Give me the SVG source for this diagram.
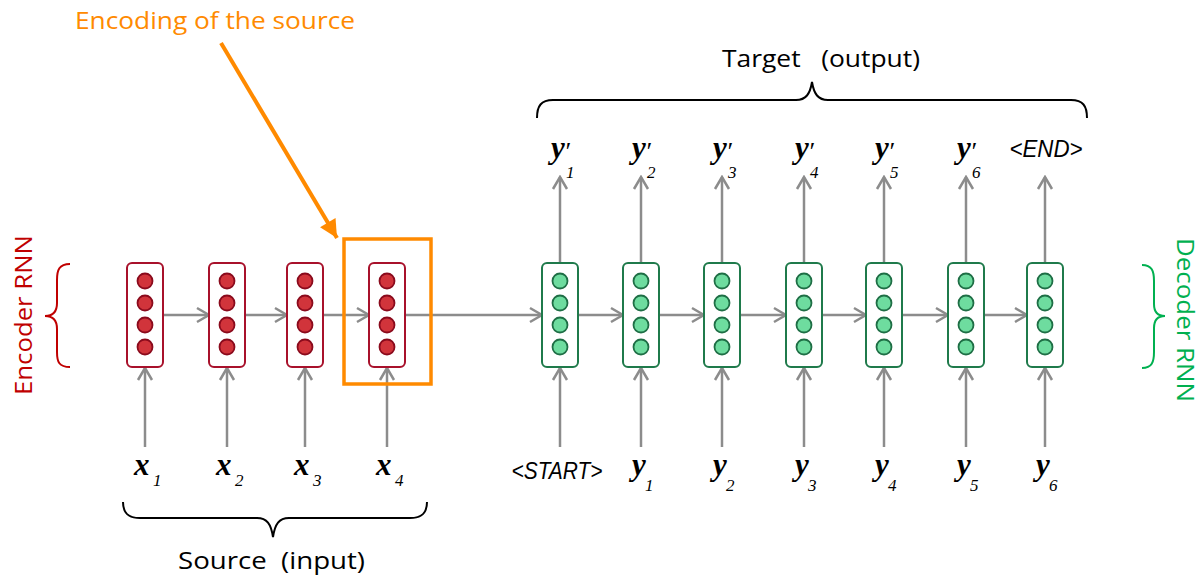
<svg xmlns="http://www.w3.org/2000/svg" width="1202" height="576" viewBox="0 0 1202 576">
<defs>
<style>
.enc{fill:#fff;stroke:#A8112B;stroke-width:2}
.encc{fill:#D1343B;stroke:#8A0A1C;stroke-width:1.8}
.dec{fill:#fff;stroke:#1F7A4B;stroke-width:2}
.decc{fill:#6EDC9F;stroke:#1E6E45;stroke-width:1.8}
.con{stroke:#8C8C8C;stroke-width:2.5;fill:none}
.math{font-family:"Liberation Serif",serif;font-style:italic;fill:#000}
.big{font-size:31px;font-weight:bold}
.sub{font-size:17px}
.tok{font-family:"Liberation Sans",Arial,sans-serif;font-style:italic;font-size:23px;fill:#000}
.lbl{font-family:"Open Sans","Noto Sans",sans-serif;font-size:24px}
.brace{fill:none;stroke:#000;stroke-width:2}
</style>
<marker id="ah" markerUnits="userSpaceOnUse" markerWidth="16" markerHeight="18" viewBox="-14 -9 16 18" refX="0" refY="0" orient="auto">
<path d="M-12,-7 L0,0 L-12,7" fill="none" stroke="#8C8C8C" stroke-width="2.5"/>
</marker>
<marker id="oah" markerUnits="userSpaceOnUse" markerWidth="24" markerHeight="24" viewBox="-20 -12 22 24" refX="0" refY="0" orient="auto">
<path d="M-18,-9 L0,0 L-18,9 Z" fill="#FF8A00"/>
</marker>
<g id="encnode">
<rect class="enc" x="-18" y="263" width="36" height="104" rx="5"/>
<circle class="encc" cx="0" cy="281" r="7.5"/>
<circle class="encc" cx="0" cy="303" r="7.5"/>
<circle class="encc" cx="0" cy="325" r="7.5"/>
<circle class="encc" cx="0" cy="347" r="7.5"/>
</g>
<g id="decnode">
<rect class="dec" x="-18" y="263" width="36" height="104" rx="5"/>
<circle class="decc" cx="0" cy="281" r="7.5"/>
<circle class="decc" cx="0" cy="303" r="7.5"/>
<circle class="decc" cx="0" cy="325" r="7.5"/>
<circle class="decc" cx="0" cy="347" r="7.5"/>
</g>
</defs>
<rect width="1202" height="576" fill="#fff"/>

<g id="connectors">
<line class="con" x1="163" y1="315" x2="209" y2="315" marker-end="url(#ah)"/>
<line class="con" x1="245" y1="315" x2="287" y2="315" marker-end="url(#ah)"/>
<line class="con" x1="323" y1="315" x2="369" y2="315" marker-end="url(#ah)"/>
<line class="con" x1="405" y1="315" x2="542" y2="315" marker-end="url(#ah)"/>
<line class="con" x1="578" y1="315" x2="623" y2="315" marker-end="url(#ah)"/>
<line class="con" x1="659" y1="315" x2="704" y2="315" marker-end="url(#ah)"/>
<line class="con" x1="740" y1="315" x2="786" y2="315" marker-end="url(#ah)"/>
<line class="con" x1="822" y1="315" x2="866" y2="315" marker-end="url(#ah)"/>
<line class="con" x1="902" y1="315" x2="948" y2="315" marker-end="url(#ah)"/>
<line class="con" x1="984" y1="315" x2="1027" y2="315" marker-end="url(#ah)"/>
<line class="con" x1="145" y1="447" x2="145" y2="368" marker-end="url(#ah)"/>
<line class="con" x1="227" y1="447" x2="227" y2="368" marker-end="url(#ah)"/>
<line class="con" x1="305" y1="447" x2="305" y2="368" marker-end="url(#ah)"/>
<line class="con" x1="387" y1="447" x2="387" y2="368" marker-end="url(#ah)"/>
<line class="con" x1="560" y1="447" x2="560" y2="368" marker-end="url(#ah)"/>
<line class="con" x1="641" y1="447" x2="641" y2="368" marker-end="url(#ah)"/>
<line class="con" x1="722" y1="447" x2="722" y2="368" marker-end="url(#ah)"/>
<line class="con" x1="804" y1="447" x2="804" y2="368" marker-end="url(#ah)"/>
<line class="con" x1="884" y1="447" x2="884" y2="368" marker-end="url(#ah)"/>
<line class="con" x1="966" y1="447" x2="966" y2="368" marker-end="url(#ah)"/>
<line class="con" x1="1045" y1="447" x2="1045" y2="368" marker-end="url(#ah)"/>
<line class="con" x1="560" y1="262" x2="560" y2="177" marker-end="url(#ah)"/>
<line class="con" x1="641" y1="262" x2="641" y2="177" marker-end="url(#ah)"/>
<line class="con" x1="722" y1="262" x2="722" y2="177" marker-end="url(#ah)"/>
<line class="con" x1="804" y1="262" x2="804" y2="177" marker-end="url(#ah)"/>
<line class="con" x1="884" y1="262" x2="884" y2="177" marker-end="url(#ah)"/>
<line class="con" x1="966" y1="262" x2="966" y2="177" marker-end="url(#ah)"/>
<line class="con" x1="1045" y1="262" x2="1045" y2="177" marker-end="url(#ah)"/>
<line x1="221" y1="43" x2="337" y2="238" stroke="#FF8A00" stroke-width="4" marker-end="url(#oah)"/>
</g>

<g id="enc1"><use href="#encnode" x="145"/></g>
<g id="enc2"><use href="#encnode" x="227"/></g>
<g id="enc3"><use href="#encnode" x="305"/></g>
<g id="enc4"><use href="#encnode" x="387"/></g>

<g id="dec1"><use href="#decnode" x="560"/></g>
<g id="dec2"><use href="#decnode" x="641"/></g>
<g id="dec3"><use href="#decnode" x="722"/></g>
<g id="dec4"><use href="#decnode" x="804"/></g>
<g id="dec5"><use href="#decnode" x="884"/></g>
<g id="dec6"><use href="#decnode" x="966"/></g>
<g id="dec7"><use href="#decnode" x="1045"/></g>

<g id="encoding-box">
<rect x="344" y="239" width="87" height="145" fill="none" stroke="#FF8A00" stroke-width="3.5"/>
</g>

<g id="encoding-label">
<text class="lbl" x="75" y="29" fill="#FF8A00" textLength="280" lengthAdjust="spacingAndGlyphs">Encoding of the source</text>
</g>

<g id="encoder-brace">
<path d="M70,264 C59,264 57,270 57,280 L57,303 C57,312 53,316 45,316 C53,316 57,320 57,329 L57,352 C57,362 59,367 70,367" fill="none" stroke="#C00000" stroke-width="2"/>
<text class="lbl" transform="translate(32,315) rotate(-90)" text-anchor="middle" fill="#C00000" font-size="27" textLength="160" lengthAdjust="spacingAndGlyphs">Encoder RNN</text>
</g>

<g id="decoder-brace">
<path d="M1142,265 C1152,265 1154,271 1154,281 L1154,304 C1154,312 1158,316 1165,316 C1158,316 1154,320 1154,328 L1154,352 C1154,362 1152,368 1142,368" fill="none" stroke="#00B050" stroke-width="2"/>
<text class="lbl" transform="translate(1177,320) rotate(90)" text-anchor="middle" fill="#00B050" font-size="26" textLength="164" lengthAdjust="spacingAndGlyphs">Decoder RNN</text>
</g>

<g id="target-brace">
<path class="brace" d="M537,118 C537,106 541,100 553,100 L796,100 C806,100 810,94 812,82 C814,94 818,100 828,100 L1071,100 C1083,100 1087,106 1087,118"/>
<text class="lbl" x="722" y="67" fill="#000" textLength="198" lengthAdjust="spacingAndGlyphs" xml:space="preserve">Target   (output)</text>
</g>

<g id="source-brace">
<path class="brace" d="M123,502 C123,513 128,518 140,518 L257,518 C267,518 271,524 273,537 C275,524 279,518 289,518 L410,518 C422,518 427,513 427,502"/>
<text class="lbl" x="178" y="569" fill="#000" textLength="187" lengthAdjust="spacingAndGlyphs" xml:space="preserve">Source  (input)</text>
</g>

<g id="inputs-x">
<text class="math big" x="134" y="475">x</text><text class="math sub" x="153" y="486">1</text>
<text class="math big" x="216" y="475">x</text><text class="math sub" x="235" y="486">2</text>
<text class="math big" x="294" y="475">x</text><text class="math sub" x="313" y="486">3</text>
<text class="math big" x="376" y="475">x</text><text class="math sub" x="395" y="486">4</text>
</g>

<g id="inputs-y">
<text class="tok" x="557" y="479" text-anchor="middle" textLength="91" lengthAdjust="spacingAndGlyphs">&lt;START&gt;</text>
<text class="math big" x="632" y="475">y</text><text class="math sub" x="645" y="491">1</text>
<text class="math big" x="713" y="475">y</text><text class="math sub" x="726" y="491">2</text>
<text class="math big" x="795" y="475">y</text><text class="math sub" x="808" y="491">3</text>
<text class="math big" x="875" y="475">y</text><text class="math sub" x="888" y="491">4</text>
<text class="math big" x="957" y="475">y</text><text class="math sub" x="970" y="491">5</text>
<text class="math big" x="1036" y="475">y</text><text class="math sub" x="1049" y="491">6</text>
</g>

<g id="outputs">
<text class="math big" x="551" y="158">y</text><text class="math" font-size="26" x="564" y="160">′</text><text class="math sub" x="566" y="178">1</text>
<text class="math big" x="632" y="158">y</text><text class="math" font-size="26" x="645" y="160">′</text><text class="math sub" x="647" y="178">2</text>
<text class="math big" x="713" y="158">y</text><text class="math" font-size="26" x="726" y="160">′</text><text class="math sub" x="728" y="178">3</text>
<text class="math big" x="795" y="158">y</text><text class="math" font-size="26" x="808" y="160">′</text><text class="math sub" x="810" y="178">4</text>
<text class="math big" x="875" y="158">y</text><text class="math" font-size="26" x="888" y="160">′</text><text class="math sub" x="890" y="178">5</text>
<text class="math big" x="957" y="158">y</text><text class="math" font-size="26" x="970" y="160">′</text><text class="math sub" x="972" y="178">6</text>
<text class="tok" x="1046" y="157" text-anchor="middle" textLength="73" lengthAdjust="spacingAndGlyphs">&lt;END&gt;</text>
</g>
</svg>
